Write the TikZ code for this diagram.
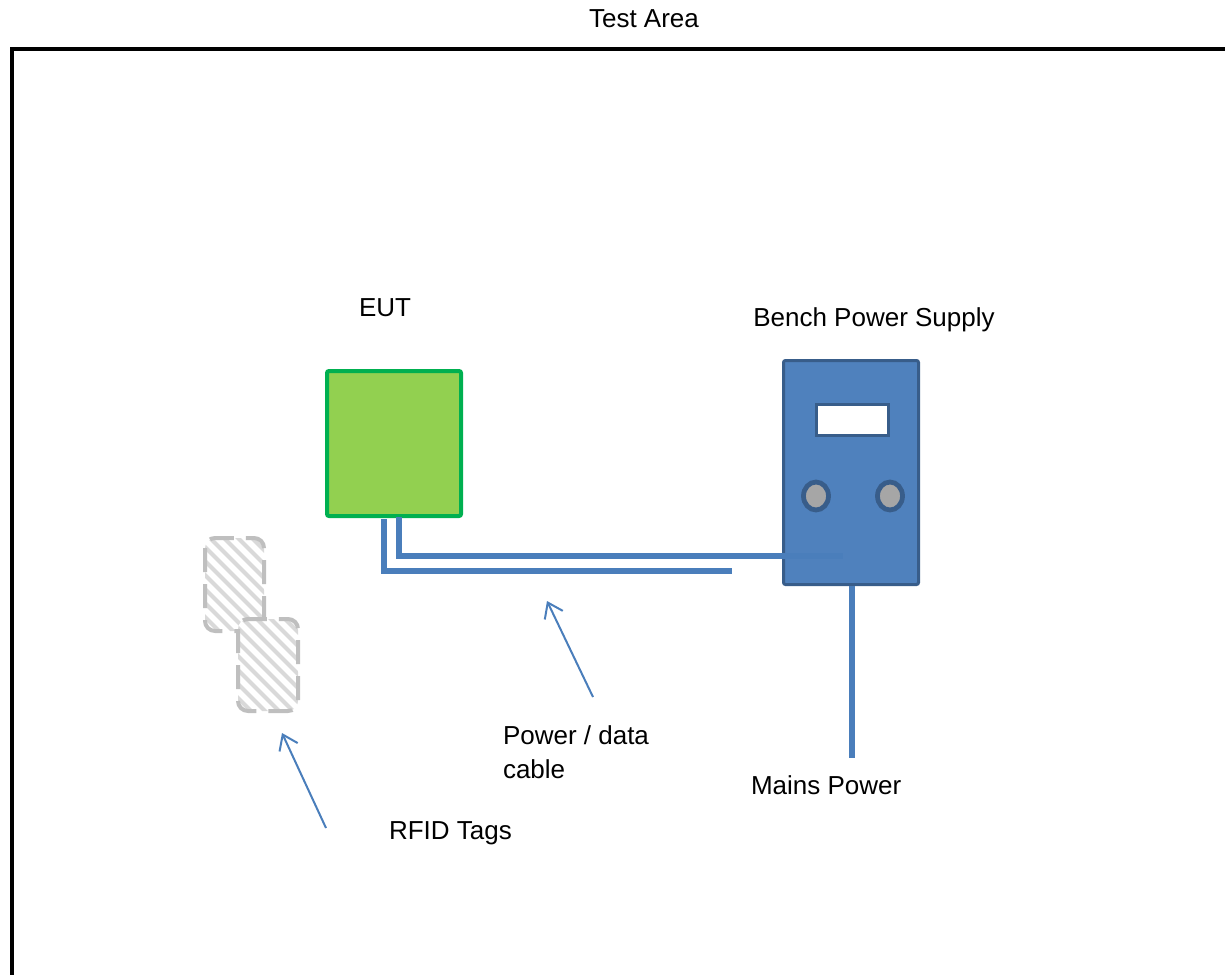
\documentclass[tikz,border=0pt]{standalone}
\usepackage{fontspec}
\setmainfont{Liberation Sans}
\usetikzlibrary{arrows.meta,shapes.geometric}
\definecolor{cableblue}{HTML}{4A7EBB}
\definecolor{psufill}{HTML}{4F81BD}
\definecolor{psuedge}{HTML}{385D8A}
\definecolor{eutfill}{HTML}{92D050}
\definecolor{eutedge}{HTML}{00B050}
\definecolor{knobgray}{HTML}{A6A6A6}
\definecolor{tagedge}{HTML}{BFBFBF}
\definecolor{tagstripe}{HTML}{D9D9D9}

\begin{document}
\begin{tikzpicture}[x=0.5pt,y=-0.5pt,
  txt/.style={font=\fontsize{13}{17}\selectfont, inner sep=0pt, outer sep=0pt},
  cable/.style={draw=cableblue, line width=2.7pt},
  pointer/.style={draw=cableblue, line width=1pt, -{Straight Barb[length=7pt,width=10pt]}},
  tagborder/.style={draw=tagedge, line width=2pt, dash pattern=on 12pt off 6pt, rounded corners=5pt},
  psuface/.style={draw=psuedge, line width=1.5pt},
  knob/.style={draw=psuedge, line width=2.4pt, fill=knobgray, ellipse,
               minimum width=12.5pt, minimum height=14pt, inner sep=0pt}]
\useasboundingbox (0,0) rectangle (1225,974);
\clip (0,0) rectangle (1225,974);

% test area frame (runs past the right and bottom edges)
\draw[line width=2pt] (12,49) rectangle (1260,1010);
\node[txt, anchor=base] (title) at (644,28) {Test Area};

% equipment under test
\node[txt, anchor=base] (eutlabel) at (385,316) {EUT};
\node[draw=eutedge, fill=eutfill, line width=2pt, minimum width=67pt, minimum height=72.5pt,
      inner sep=0pt, rounded corners=1pt] (eut) at (394,443.5) {};

% bench power supply
\node[txt, anchor=base] (psulabel) at (874,326) {Bench Power Supply};
\node[psuface, fill=psufill, minimum width=67.5pt, minimum height=112pt,
      inner sep=0pt, rounded corners=1pt] (psu) at (851,472.5) {};
\node[psuface, fill=white, minimum width=36pt, minimum height=15.5pt, inner sep=0pt] (display) at (852.5,420) {};
\node[knob] (knobl) at (816,496) {};
\node[knob] (knobr) at (890,496) {};

% power / data cable pair
\coordinate (plug) at (843,556);
\coordinate (cableend) at (732,571);
\draw[cable] (eut.south) ++(5,-1) |- (plug);
\draw[cable] (eut.south) ++(-10,1) |- (cableend);

% mains lead
\coordinate (mainsend) at (852,758);
\draw[draw=cableblue, line width=3pt] (psu.south -| mainsend) -- (mainsend);
\node[txt, anchor=base west] (mainslabel) at (751,794) {Mains Power};

% RFID tags
\foreach \nm/\xa/\ya/\xb/\yb in {taga/205/538/264/631, tagb/238/619/298/711} {
  \begin{scope}
    \clip[rounded corners=5pt] (\xa,\ya) rectangle (\xb,\yb);
    \fill[white] (\xa,\ya) rectangle (\xb,\yb);
    \foreach \k in {-9,...,5}
      \draw[tagstripe, line width=2pt] (\xa+\k*14,\ya-5) -- ++(140,140);
  \end{scope}
  \draw[tagborder] (\xa,\ya) rectangle (\xb,\yb);
  \coordinate (\nm) at (\xa,\ya);
}

% callouts
\node[txt, anchor=north west, align=left] (cablelabel) at (503,726) {Power / data\\cable};
\coordinate (cabletail) at (593,697);
\coordinate (cabletip) at (547,601);
\draw[pointer] (cabletail) -- (cabletip);

\node[txt, anchor=base west] (taglabel) at (389,839) {RFID Tags};
\coordinate (tagtail) at (326,828);
\coordinate (tagtip) at (282,733);
\draw[pointer] (tagtail) -- (tagtip);
\end{tikzpicture}
\end{document}
